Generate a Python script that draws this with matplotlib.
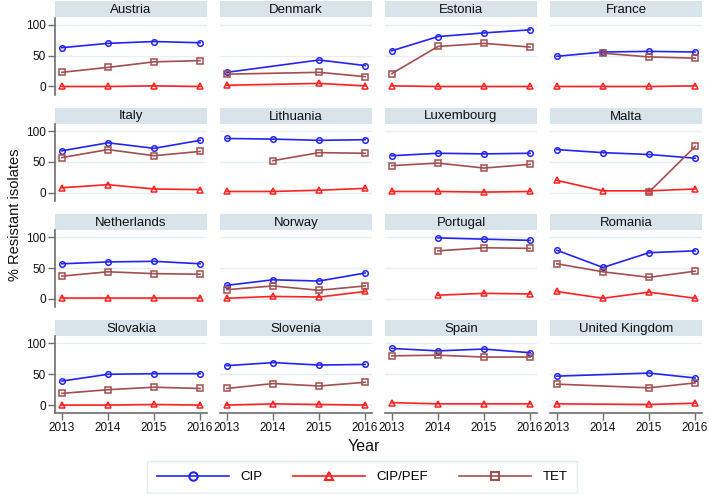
import numpy as np
import matplotlib
matplotlib.use("Agg")
import matplotlib.pyplot as plt
from matplotlib.lines import Line2D
from matplotlib.patches import Rectangle

plt.rcParams['font.family'] = ['Liberation Sans', 'DejaVu Sans']

nan = np.nan
years = [2013, 2014, 2015, 2016]
countries = ["Austria", "Denmark", "Estonia", "France",
             "Italy", "Lithuania", "Luxembourg", "Malta",
             "Netherlands", "Norway", "Portugal", "Romania",
             "Slovakia", "Slovenia", "Spain", "United Kingdom"]

cip = [[63, 70, 73, 71], [23, nan, 43, 34], [58, 81, 87, 92], [49, 56, 57, 56],
       [68, 81, 72, 85], [88, 87, 85, 86], [60, 64, 63, 64], [70, 65, 62, 56],
       [57, 60, 61, 57], [22, 31, 29, 42], [nan, 99, 97, 95], [79, 51, 75, 78],
       [39, 50, 51, 51], [64, 69, 65, 66], [92, 88, 91, 85], [47, nan, 52, 44]]

cip_pef = [[0, 0, 1, 0], [2, nan, 5, 1], [1, 0, 0, 0], [0, 0, 0, 1],
           [8, 13, 6, 5], [2, 2, 4, 7], [2, 2, 1, 2], [20, 3, 3, 6],
           [2, 2, 2, 2], [1, 4, 3, 12], [nan, 6, 9, 8], [12, 1, 11, 1],
           [0, 0, 1, 0], [0, 2, 1, 0], [4, 2, 2, 2], [2, nan, 1, 3]]

tet = [[23, 31, 40, 42], [20, nan, 23, 16], [21, 65, 70, 64], [nan, 54, 48, 46],
       [57, 70, 60, 67], [nan, 52, 65, 64], [44, 48, 40, 46], [nan, nan, 1, 75],
       [37, 44, 41, 40], [15, 21, 14, 21], [nan, 78, 83, 82], [57, 44, 35, 45],
       [19, 25, 29, 27], [27, 35, 31, 37], [80, 81, 78, 78], [34, nan, 28, 36]]

series = [("CIP", cip, "#2424F5", "o"),
          ("CIP/PEF", cip_pef, "#FF2222", "^"),
          ("TET", tet, "#A24F4F", "s")]

W, H = 709, 494
fig = plt.figure(figsize=(W / 100, H / 100), dpi=100)

axis_col = "#6E6E6E"
grid_col = "#E6EEF1"
head_col = "#D9E3EA"

def px(x, y, w, h):
    # pixel box (top-left origin) -> figure fraction
    return [x / W, 1 - (y + h) / H, w / W, h / H]

col_x = [55, 220, 385, 550]
pw = 152
head_h = 16
plot_h = 77

for i, name in enumerate(countries):
    r, c = divmod(i, 4)
    top = 1.5 + 106.2 * r
    hx = fig.add_axes(px(col_x[c], top, pw, head_h))
    hx.add_patch(Rectangle((0, 0), 1, 1, color=head_col, transform=hx.transAxes))
    hx.text(0.5, 0.45, name, ha="center", va="center", fontsize=9.5, color="#111111")
    hx.axis("off")

    ax = fig.add_axes(px(col_x[c], top + head_h, pw, plot_h))
    ax.set_xlim(2012.85, 2016.15)
    ax.set_ylim(-13, 112)
    for v in (0, 50, 100):
        ax.axhline(v, color=grid_col, lw=1, zorder=0)
    for label, data, color, mk in series:
        y = np.array(data[i], dtype=float)
        ok = ~np.isnan(y)
        ax.plot(np.array(years)[ok], y[ok], color=color, lw=1.2, marker=mk,
                ms=4 if mk != "^" else 4.5, mfc="none", mec=color, mew=1.1)
    for s in ax.spines.values():
        s.set_visible(False)
    ax.set_yticks([0, 50, 100])
    ax.set_xticks(years)
    ax.tick_params(colors=axis_col, labelcolor="#111111", labelsize=8.5,
                   length=5, width=1, pad=1.5)
    if c == 0:
        ax.spines["left"].set_visible(True)
        ax.spines["left"].set_color(axis_col)
        ax.spines["left"].set_linewidth(1.2)
    else:
        ax.tick_params(axis="y", left=False, labelleft=False)
    if r == 3:
        ax.spines["bottom"].set_visible(True)
        ax.spines["bottom"].set_color(axis_col)
        ax.spines["bottom"].set_linewidth(1.2)
    else:
        ax.tick_params(axis="x", bottom=False, labelbottom=False)
    ax.patch.set_alpha(0)

fig.text(15 / W, 1 - 215 / H, "% Resistant isolates", rotation=90, ha="center",
         va="center", fontsize=10.5, color="#111111")
fig.text(364 / W, 1 - 446 / H, "Year", ha="center", va="center",
         fontsize=11.5, color="#111111")

handles = [Line2D([], [], color=color, lw=1.2, marker=mk, ms=6, mfc="none",
                  mec=color, mew=1.5) for label, data, color, mk in series]
leg = fig.legend(handles, [s[0] for s in series], ncol=3, loc="center",
                 bbox_to_anchor=(362 / W, 1 - 477 / H), fontsize=9.5,
                 handlelength=5.5, columnspacing=2.3, handletextpad=0.85,
                 frameon=True, fancybox=False, borderpad=0.75)
leg.get_frame().set_edgecolor("#DCE6EA")
leg.get_frame().set_linewidth(1)

fig.savefig("out.png", dpi=100)
